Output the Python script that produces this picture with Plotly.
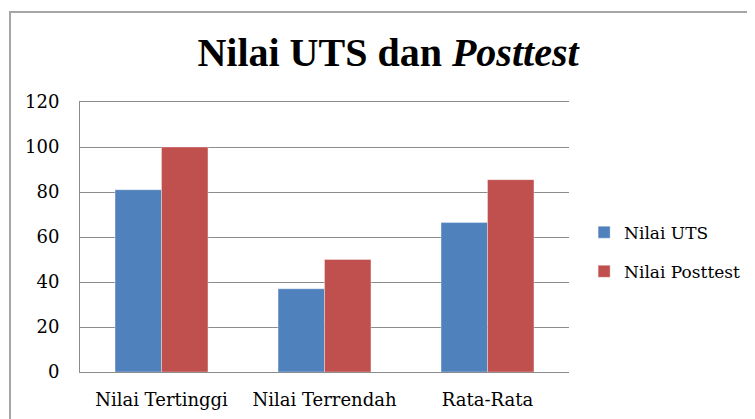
import plotly.graph_objects as go

categories = ["Nilai Tertinggi", "Nilai Terrendah", "Rata-Rata"]
uts_values = [81, 37, 66.4]
posttest_values = [100, 50, 85.5]
series_names = ["Nilai UTS", "Nilai Posttest"]
y_ticks = [0, 20, 40, 60, 80, 100, 120]

FONT = "DejaVu Serif"
OFF = 8  # page body margin

W, H = 755, 419
L, T = 80 - OFF, 102 - OFF
PW, PH = 489, 270

fig = go.Figure()
fig.add_trace(go.Bar(
    x=categories, y=uts_values, name=series_names[0], legendgroup="a",
    marker=dict(color="#4F81BD", line=dict(color="rgba(255,255,255,0.35)", width=1)),
))
fig.add_trace(go.Bar(
    x=categories, y=posttest_values, name=series_names[1], legendgroup="b",
    marker=dict(color="#C0504D", line=dict(color="rgba(255,255,255,0.35)", width=1)),
))

fig.update_layout(
    width=W, height=H,
    margin=dict(l=L, r=W - L - PW, t=T, b=H - T - PH),
    paper_bgcolor="white", plot_bgcolor="white",
    barmode="group", bargap=0.43, bargroupgap=0,
    font=dict(family=FONT, size=18, color="#000000"),
    title=dict(
        text="<b>Nilai UTS dan <i>Posttest</i></b>",
        x=(388 - OFF) / W, xanchor="center", xref="container",
        y=1 - (52 - OFF) / H, yanchor="middle", yref="container",
        font=dict(family="Liberation Serif", size=40, color="#000000"),
    ),
    legend=dict(
        x=1.035 - 2 / PW, y=0.444, xanchor="left", yanchor="middle",
        font=dict(family=FONT, size=17),
        traceorder="grouped", tracegroupgap=14, itemwidth=30,
        bgcolor="rgba(0,0,0,0)",
    ),
    showlegend=True,
)
fig.update_yaxes(
    range=[0, 120], tickvals=y_ticks, ticktext=[str(v) for v in y_ticks],
    showgrid=True, gridcolor="#8C8C8C", gridwidth=1,
    showline=True, linecolor="#8C8C8C", linewidth=1,
    ticks="outside", ticklen=16, tickcolor="rgba(0,0,0,0)",
    zeroline=False, fixedrange=True,
)
fig.update_xaxes(
    showline=True, linecolor="#8C8C8C", linewidth=1, mirror=True,
    ticks="outside", ticklen=11, tickcolor="rgba(0,0,0,0)",
    showgrid=False,
)
# outer chart border
fig.add_shape(type="rect", xref="paper", yref="paper",
              x0=(10 - 80) / PW, x1=(800 - 80) / PW,
              y0=-0.5, y1=1 + (102 - 12) / PH,
              line=dict(color="#A6A6A6", width=2), fillcolor="rgba(0,0,0,0)",
              layer="below")

fig.write_html("out.html")
